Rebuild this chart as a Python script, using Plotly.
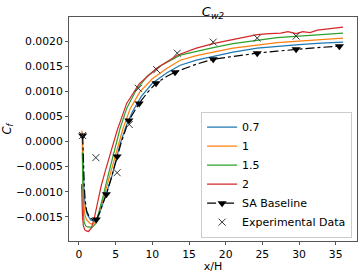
import plotly.graph_objects as go

# ---- data ----
blue_x = [0.45, 0.52, 0.6, 0.7, 0.85, 1.1, 1.6, 2.1, 2.6, 3.2, 3.8, 4.5, 5.0, 5.6, 6.4, 7.3, 8.5, 10.0, 12.0, 13.8, 16.0, 18.3, 21.0, 24.3, 27.0, 30.0, 33.0, 36.0]
blue_y = [0.00018, -0.0002, -0.0007, -0.00105, -0.00128, -0.00145, -0.00156, -0.00159, -0.00152, -0.00128, -0.001, -0.00068, -0.0004, -0.00005, 0.0003, 0.0006, 0.0009, 0.00116, 0.00137, 0.00152, 0.00162, 0.0017, 0.00178, 0.00186, 0.0019, 0.00193, 0.00196, 0.00198]

orange_x = [0.4, 0.47, 0.55, 0.65, 0.8, 1.0, 1.5, 1.9, 2.4, 3.0, 3.55, 4.2, 4.8, 5.3, 6.0, 7.0, 8.3, 10.0, 12.0, 13.8, 16.0, 18.3, 21.0, 24.3, 27.0, 30.0, 33.0, 36.0]
orange_y = [0.00022, -0.0002, -0.0008, -0.00122, -0.00145, -0.00155, -0.00163, -0.00165, -0.00158, -0.0013, -0.00102, -0.00068, -0.00036, -0.0001, 0.00026, 0.00066, 0.00099, 0.00125, 0.00146, 0.00162, 0.00171, 0.00178, 0.00186, 0.00192, 0.00197, 0.002, 0.00203, 0.00206]

green_x = [0.45, 0.5, 0.58, 0.7, 0.9, 1.2, 1.8, 2.3, 2.8, 3.3, 3.9, 4.5, 4.9, 5.6, 6.5, 7.8, 9.3, 11.0, 13.8, 16.0, 18.3, 21.0, 24.3, 27.0, 30.0, 33.0, 36.0]
green_y = [-0.00022, -0.0008, -0.00135, -0.0016, -0.00168, -0.0017, -0.00171, -0.00163, -0.00138, -0.00108, -0.00072, -0.00036, -0.00012, 0.00026, 0.00066, 0.00103, 0.0013, 0.0015, 0.00172, 0.0018, 0.00187, 0.00195, 0.00202, 0.00207, 0.0021, 0.00213, 0.00216]

red_x = [0.35, 0.4, 0.48, 0.6, 0.8, 1.0, 1.3, 1.7, 2.1, 2.5, 3.0, 3.6, 4.4, 5.2, 6.5, 8.2, 10.6, 13.4, 16.0, 18.3, 20.6, 22.5, 24.3, 26.0, 27.5, 28.5, 29.6, 30.5, 31.5, 32.5, 34.0, 36.0]
red_y = [-0.00085, -0.0012, -0.0015, -0.00168, -0.00176, -0.00178, -0.00179, -0.00172, -0.00152, -0.00124, -0.0009, -0.00058, -0.00018, 0.00022, 0.00076, 0.00115, 0.00146, 0.00172, 0.00186, 0.00195, 0.00202, 0.00207, 0.00213, 0.00215, 0.00216, 0.00219, 0.00215, 0.00219, 0.00217, 0.00222, 0.00224, 0.00228]

sa_x = [0.5, 0.55, 0.62, 0.72, 0.85, 1.05, 1.4, 1.9, 2.36, 2.8, 3.4, 3.73, 4.3, 4.8, 5.2, 5.8, 6.8, 8.2, 9.3, 10.5, 12.0, 13.1, 14.5, 16.0, 18.3, 21.0, 24.3, 27.0, 29.6, 32.5, 35.5]
sa_y = [0.00012, -0.0002, -0.0006, -0.0009, -0.00118, -0.00138, -0.0015, -0.00156, -0.00155, -0.00142, -0.00118, -0.00105, -0.00078, -0.00052, -0.0003, 0.0, 0.00042, 0.00076, 0.00097, 0.00116, 0.0013, 0.00138, 0.00146, 0.00154, 0.00164, 0.0017, 0.00176, 0.0018, 0.00184, 0.00187, 0.0019]
sa_marker_idx = [0, 8, 11, 14, 16, 17, 19, 21, 24, 26, 28, 30]

exp_x = [0.5, 2.3, 5.2, 6.85, 8.1, 10.6, 13.4, 18.3, 24.3, 29.6]
exp_y = [0.00012, -0.00032, -0.00062, 0.00034, 0.00106, 0.00143, 0.00176, 0.00198, 0.00206, 0.0021]

x_ticks = [0, 5, 10, 15, 20, 25, 30, 35]
y_ticks = [-0.0015, -0.0010, -0.0005, 0.0, 0.0005, 0.0010, 0.0015, 0.0020]
y_tick_text = ["\u22120.0015", "\u22120.0010", "\u22120.0005", "0.0000", "0.0005", "0.0010", "0.0015", "0.0020"]

names = ["0.7", "1", "1.5", "2"]
colors = ["#1f77b4", "#ff7f0e", "#2ca02c", "#d62728"]

fig = go.Figure()
for nm, xs, ys, c in zip(names, [blue_x, orange_x, green_x, red_x], [blue_y, orange_y, green_y, red_y], colors):
    fig.add_trace(go.Scatter(x=xs, y=ys, mode="lines", name=nm,
                             line=dict(color=c, width=1.2)))

fig.add_trace(go.Scatter(x=sa_x, y=sa_y, mode="lines+markers", name="SA Baseline",
                         line=dict(color="black", width=1.2, dash="dashdot"),
                         marker=dict(symbol="triangle-down", size=8, color="black"),
                         selectedpoints=sa_marker_idx,
                         selected=dict(marker=dict(opacity=1)),
                         unselected=dict(marker=dict(opacity=0))))

fig.add_trace(go.Scatter(x=exp_x, y=exp_y, mode="markers", name="Experimental Data",
                         marker=dict(symbol="x-thin-open", size=7, color="#333333",
                                     line=dict(width=1, color="#333333"))))

axis_common = dict(showline=True, linecolor="#555555", linewidth=1, mirror=True,
                   ticks="outside", ticklen=3, tickcolor="#555555", showgrid=False,
                   zeroline=False, automargin=False,
                   tickfont=dict(family="DejaVu Sans", size=10.8, color="black"))

fig.update_layout(
    width=361, height=273,
    margin=dict(l=69, r=4, t=17, b=32),
    plot_bgcolor="white", paper_bgcolor="white",
    font=dict(family="DejaVu Sans", size=11, color="black"),
    title=dict(text="<i>C</i><sub><i>w2</i></sub>", xref="paper", x=0.5, xanchor="center",
               yref="container", y=1 - 11.5 / 273, yanchor="middle", font=dict(size=13)),
    xaxis=dict(range=[-1.36, 37.9], tickvals=x_ticks,
               title=dict(text="x/H", standoff=2, font=dict(size=11)), **axis_common),
    yaxis=dict(range=[-0.00198, 0.00248], tickvals=y_ticks, ticktext=y_tick_text,
               title=dict(text="<i>C</i><sub><i>f</i></sub>", standoff=8, font=dict(size=11.5)),
               **axis_common),
    legend=dict(x=0.983, y=0.015, xanchor="right", yanchor="bottom",
                bgcolor="rgba(255,255,255,0.9)", bordercolor="#cccccc", borderwidth=1,
                font=dict(size=11), tracegroupgap=0, itemwidth=30),
    showlegend=True,
)

fig.write_html("out.html", config={"displayModeBar": False},
               post_script="document.body.style.margin='0';document.body.style.overflow='hidden';")
